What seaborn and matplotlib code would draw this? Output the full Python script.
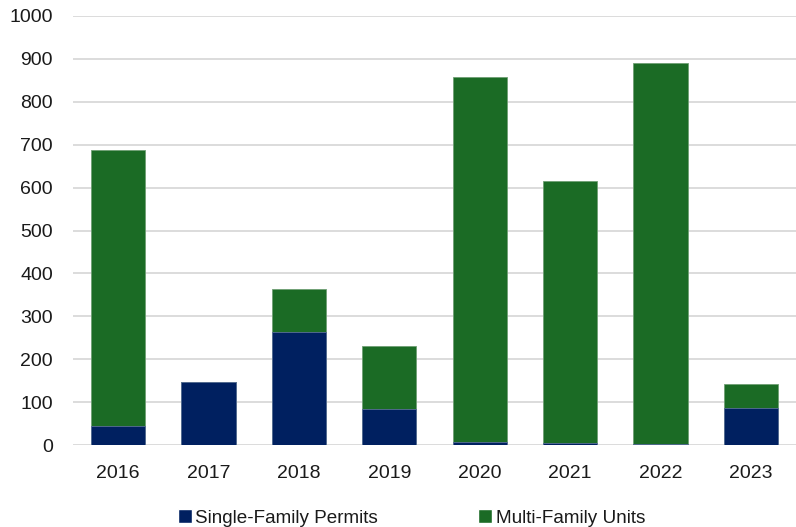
import matplotlib
matplotlib.use("Agg")
import matplotlib.pyplot as plt
import seaborn as sns
import pandas as pd
import numpy as np
from matplotlib.patches import Patch

years = ["2016", "2017", "2018", "2019", "2020", "2021", "2022", "2023"]
single_family = [46, 147, 263, 84, 8, 6, 4, 86]
multi_family = [641, 0, 101, 148, 849, 610, 886, 57]

navy = "#002060"
green = "#1b6b25"

sns.set_theme(style="white")
plt.rcParams["font.family"] = ["Liberation Sans", "DejaVu Sans"]

df = pd.DataFrame({
    "year": years,
    "single": single_family,
    "total": np.array(single_family) + np.array(multi_family),
})

fig = plt.figure(figsize=(7.96, 5.27), dpi=100)
ax = fig.add_axes([73 / 796, 1 - 445.3 / 527, 1 - 73 / 796, (445.3 - 15.7) / 527])

# stacked bars: total height in green, single-family portion drawn over it in navy
sns.barplot(data=df, x="year", y="total", color=green, width=0.6, saturation=1,
            edgecolor="#6f9f74", linewidth=0.6, ax=ax, zorder=2)
sns.barplot(data=df, x="year", y="single", color=navy, width=0.6, saturation=1,
            edgecolor="#5a6f98", linewidth=0.6, ax=ax, zorder=3)

ax.set_ylim(0, 1000)
ax.set_xlim(-0.5, len(years) - 0.5)
ax.set_yticks(range(0, 1001, 100))
ax.yaxis.grid(True, color="#d9d9d9", linewidth=1.3, zorder=0)
ax.set_axisbelow(True)
for s in ax.spines.values():
    s.set_visible(False)
ax.set_xlabel("")
ax.set_ylabel("")
ax.tick_params(axis="y", length=0, pad=14.5, labelsize=14, labelcolor="#1a1a1a")
ax.tick_params(axis="x", length=0, pad=14, labelsize=14, labelcolor="#1a1a1a")

handles = [Patch(facecolor=navy, label="Single-Family Permits"),
           Patch(facecolor=green, label="Multi-Family Units")]
fig.legend(handles=handles, loc="center", bbox_to_anchor=(0.517, 1 - 518 / 527),
           ncol=2, frameon=False, fontsize=13.6, handlelength=0.74, handleheight=0.74,
           handletextpad=0.2, columnspacing=5.3, labelcolor="#1a1a1a",
           borderaxespad=0, borderpad=0)

fig.savefig("out.png", dpi=100)
